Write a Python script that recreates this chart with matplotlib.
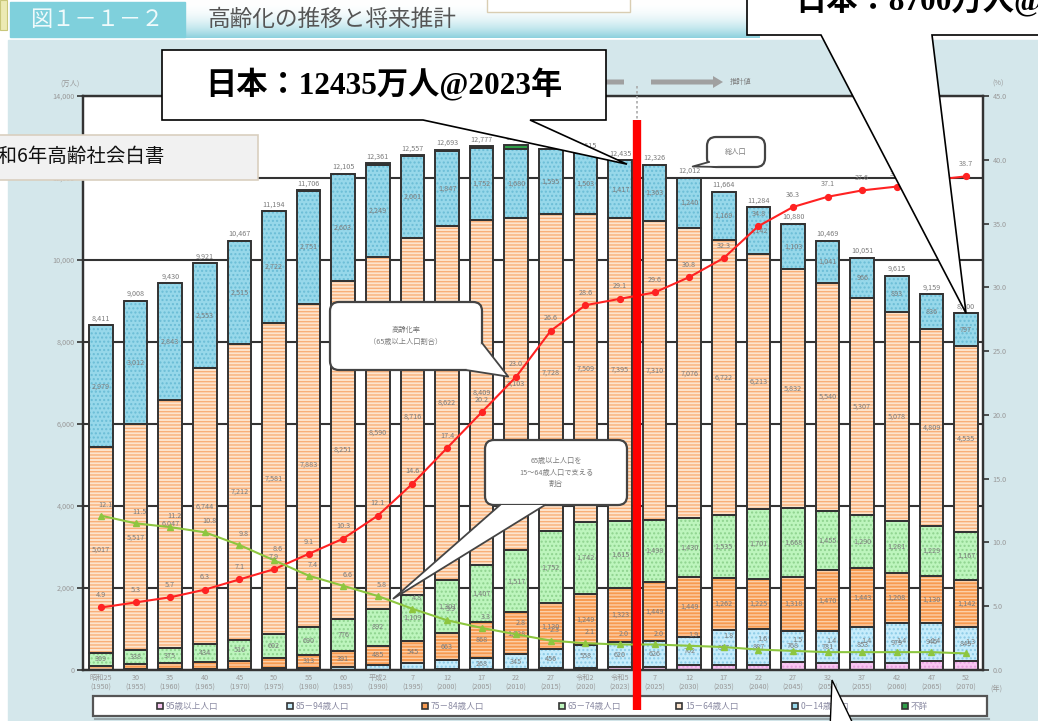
import numpy as np
import matplotlib.pyplot as plt
from matplotlib.patches import Rectangle, FancyBboxPatch, Polygon, FancyArrow
from matplotlib.lines import Line2D
from matplotlib.transforms import blended_transform_factory

plt.rcParams['font.family'] = ['Noto Sans CJK JP', 'DejaVu Sans']
plt.rcParams['hatch.linewidth'] = 1.0

W, H = 1038, 721

# 年次ラベル（和暦・西暦）
year_labels = ['昭和25\n(1950)', '30\n(1955)', '35\n(1960)', '40\n(1965)', '45\n(1970)',
               '50\n(1975)', '55\n(1980)', '60\n(1985)', '平成2\n(1990)', '7\n(1995)',
               '12\n(2000)', '17\n(2005)', '22\n(2010)', '27\n(2015)', '令和2\n(2020)',
               '令和5\n(2023)', '7\n(2025)', '12\n(2030)', '17\n(2035)', '22\n(2040)',
               '27\n(2045)', '32\n(2050)', '37\n(2055)', '42\n(2060)', '47\n(2065)',
               '52\n(2070)']

# 年齢区分別人口（万人）
pop_95over = [1, 1, 1, 1, 1, 2, 3, 4, 5, 9, 14, 24, 34, 46, 53, 65,
              80, 115, 119, 116, 191, 182, 192, 176, 210, 214]
pop_85_94 = [10, 14, 17, 22, 27, 35, 50, 76, 107, 163, 223, 268, 345, 456, 558, 620,
             626, 702, 857, 887, 768, 781, 853, 979, 945, 845]
pop_75_84 = [95, 124, 146, 166, 196, 247, 313, 391, 485, 545, 663, 868, 1028, 1130, 1249, 1323,
             1449, 1449, 1262, 1225, 1318, 1470, 1443, 1208, 1130, 1142]
pop_65_74 = [309, 338, 375, 434, 516, 602, 690, 776, 892, 1109, 1301, 1407, 1517, 1752, 1742, 1615,
             1498, 1430, 1535, 1701, 1668, 1455, 1290, 1281, 1229, 1167]
pop_15_64 = [5017, 5517, 6047, 6744, 7212, 7581, 7883, 8251, 8590, 8716, 8622, 8409, 8103, 7728, 7509, 7395,
             7310, 7076, 6722, 6213, 5832, 5540, 5307, 5078, 4809, 4535]
pop_0_14 = [2979, 3012, 2843, 2553, 2515, 2722, 2751, 2603, 2249, 2001, 1847, 1752, 1680, 1595, 1503, 1417,
            1363, 1240, 1169, 1142, 1103, 1041, 966, 893, 836, 797]
pop_unknown = [0, 2, 1, 1, 0, 5, 16, 4, 33, 14, 23, 49, 99, 2, 1, 0,
               0, 0, 0, 0, 0, 0, 0, 0, 0, 0]

# 高齢化率（%）と 65歳以上1人を支える15～64歳の人数
aging_rate = [4.9, 5.3, 5.7, 6.3, 7.1, 7.9, 9.1, 10.3, 12.1, 14.6, 17.4, 20.2, 23.0, 26.6, 28.6, 29.1,
              29.6, 30.8, 32.3, 34.8, 36.3, 37.1, 37.6, 37.9, 38.4, 38.7]
support_ratio = [12.1, 11.5, 11.2, 10.8, 9.8, 8.6, 7.4, 6.6, 5.8, 4.8, 3.9, 3.3, 2.8, 2.3, 2.1, 2.0,
                 2.0, 1.9, 1.8, 1.6, 1.5, 1.4, 1.4, 1.4, 1.4, 1.3]

# 積み上げ順（下から）: ラベル, 値, 地色, 模様色, 模様
segments = [
    ('95歳以上人口', pop_95over, '#f8c6f1', '#e79fe0', '....'),
    ('85－94歳人口', pop_85_94, '#c6ecfb', '#8ccbe6', '....'),
    ('75－84歳人口', pop_75_84, '#f79a50', '#fccfa8', '-----'),
    ('65－74歳人口', pop_65_74, '#bdf5bd', '#8fd38f', '....'),
    ('15－64歳人口', pop_15_64, '#fde4cd', '#f8af78', '-----'),
    ('0－14歳人口', pop_0_14, '#97d8ea', '#6bbdd6', '....'),
    ('不詳', pop_unknown, '#2f9e48', '#2f9e48', None),
]

GRAY = '#7b7b7b'
EDGE = '#333333'

fig = plt.figure(figsize=(W / 100, H / 100), dpi=100, facecolor='white')

# 背景（パネル・見出し）
bg = fig.add_axes([0, 0, 1, 1], zorder=0)
bg.set_xlim(0, W)
bg.set_ylim(H, 0)
bg.axis('off')
bg.add_patch(Rectangle((8, 40), W, H, color='#d4e7eb', zorder=0))
grad = np.linspace(0, 1, 64) ** 2.2
c0 = np.array([1.0, 1.0, 1.0])
c1 = np.array([0.55, 0.82, 0.87])
img = (c0[None, :] * (1 - grad[:, None]) + c1[None, :] * grad[:, None])[:, None, :]
bg.imshow(np.repeat(img, 2, axis=1), extent=(185, 760, 38, 0), aspect='auto', zorder=1)
bg.add_patch(Rectangle((10, 2), 175, 35, color='#7fd0dc', zorder=2))
bg.add_patch(Rectangle((0, 0), 7, 30, facecolor='#eceab4', edgecolor='#c9c77a', lw=0.8, zorder=2))
bg.add_patch(Rectangle((487, -5), 143, 17, facecolor='white', edgecolor='#d9cdb2', lw=1, zorder=2))
bg.text(30, 20, '図１－１－２', fontsize=16, color='#effafb', va='center', ha='left', zorder=3)
bg.text(208, 19, '高齢化の推移と将来推計', fontsize=16.3, color='#555555', va='center', ha='left', zorder=3)
bg.set_xlim(0, W)
bg.set_ylim(H, 0)

# メインの積み上げ棒グラフ
ax = fig.add_axes([83 / W, 51 / H, 900 / W, 574 / H], zorder=1)
x = np.arange(len(year_labels))
bottom = np.zeros(len(x))
for name, vals, face, hcol, hatch in segments:
    vals = np.array(vals, dtype=float)
    ax.bar(x, vals, bottom=bottom, width=0.68, color=face, edgecolor=hcol,
           hatch=hatch, linewidth=0, zorder=2)
    ax.bar(x, vals, bottom=bottom, width=0.68, fill=False, edgecolor=EDGE,
           linewidth=1.4, zorder=3)
    if name != '不詳':
        for xi, b, v in zip(x, bottom, vals):
            if v >= 250:
                ax.text(xi, b + v / 2, f'{int(v):,}', ha='center', va='center',
                        fontsize=5.2, color=GRAY, zorder=4)
    bottom = bottom + vals

totals = bottom
for xi, t in zip(x, totals):
    ax.text(xi, t + 70, f'{int(t):,}', ha='center', va='bottom', fontsize=5.2, color=GRAY, zorder=4)

ax.set_xlim(-0.52, 25.49)
ax.set_ylim(0, 14000)
ax.set_yticks(range(0, 14001, 2000))
ax.set_yticklabels([f'{v:,}' for v in range(0, 14001, 2000)])
ax.yaxis.grid(True, color=EDGE, linewidth=1.5)
ax.set_axisbelow(True)
ax.set_xticks(x)
ax.set_xticklabels(year_labels, fontsize=5.2, color='#999999', linespacing=1.25)
ax.tick_params(axis='x', length=0, pad=3)
ax.tick_params(axis='y', length=4, width=1.2, color=EDGE, labelsize=5.2, labelcolor='#999999', pad=2)
for s in ax.spines.values():
    s.set_color(EDGE)
    s.set_linewidth(1.6)

# 高齢化率・支える割合の折れ線（右軸）
ax2 = ax.twinx()
ax2.set_ylim(0, 45)
ax2.set_yticks(np.arange(0, 46, 5))
ax2.set_yticklabels([f'{v:.1f}' for v in np.arange(0, 46, 5)])
ax2.tick_params(axis='y', length=4, width=1.2, color=EDGE, labelsize=5.2, labelcolor='#999999', pad=3)
for s in ax2.spines.values():
    s.set_color(EDGE)
    s.set_linewidth(1.6)
ax2.plot(x, aging_rate, color='#ff2222', lw=1.5, marker='o', ms=4.2, zorder=5)
ax2.plot(x, support_ratio, color='#8dc63f', lw=1.5, marker='^', ms=4.5, zorder=5)
for xi, v in zip(x, aging_rate):
    ax2.annotate(f'{v:.1f}', (xi, v), xytext=(0, 6), textcoords='offset points',
                 ha='center', va='bottom', fontsize=5.2, color=GRAY, zorder=6)
for xi, v in zip(x, support_ratio):
    ax2.annotate(f'{v:.1f}', (xi, v), xytext=(3, 5), textcoords='offset points',
                 ha='center', va='bottom', fontsize=5.2, color=GRAY, zorder=6)

# 注記・吹き出し（ピクセル座標）
ov = fig.add_axes([0, 0, 1, 1], zorder=10)
ov.set_xlim(0, W)
ov.set_ylim(H, 0)
ov.axis('off')
ov.patch.set_alpha(0)


def px(axes, xv, yv):
    return ov.transData.inverted().transform(axes.transData.transform((xv, yv)))


ov.text(70, 84, '(万人)', fontsize=5.2, color='#999999', ha='center', va='center')
ov.text(998, 84, '(%)', fontsize=5.2, color='#999999', ha='center', va='center')
ov.text(996, 689, '(年)', fontsize=5.2, color='#999999', ha='center', va='center')

# 実績値 ← | → 推計値
ov.add_patch(FancyArrow(624, 82, -150, 0, width=5, head_width=12, head_length=10,
                        length_includes_head=True, color='#a0a0a0', lw=0, zorder=1))
ov.add_patch(FancyArrow(651, 82, 72, 0, width=5, head_width=12, head_length=10,
                        length_includes_head=True, color='#a0a0a0', lw=0, zorder=1))
ov.text(730, 82, '推計値', fontsize=5.2, color=GRAY, ha='left', va='center', zorder=1)

split = blended_transform_factory(ax.transData, ov.transData)
ov.add_line(Line2D([15.5, 15.5], [86, 125], transform=split, color='#aaaaaa',
                   lw=1.2, ls=(0, (1.5, 1.5)), zorder=1))
ov.add_line(Line2D([15.5, 15.5], [120, 710], transform=split, color='#ff0000',
                   lw=6, solid_capstyle='butt', zorder=4))


def rounded_box(x0, y0, x1, y1, text, tail_base, tip, fs=5.2):
    ov.add_patch(FancyBboxPatch((x0, y0), x1 - x0, y1 - y0,
                                boxstyle='round,pad=0,rounding_size=9',
                                facecolor='white', edgecolor='#444444', lw=1.6, zorder=2))
    (bx0, by0), (bx1, by1) = tail_base
    ov.add_patch(Polygon([(bx0, by0), tip, (bx1, by1)], closed=True,
                         facecolor='white', edgecolor='none', zorder=2.5))
    ov.plot([bx0, tip[0], bx1], [by0, tip[1], by1], color='#444444', lw=1.3, zorder=2.6)
    ov.text((x0 + x1) / 2, (y0 + y1) / 2, text, fontsize=fs, color=GRAY,
            ha='center', va='center', linespacing=1.6, zorder=3)


rounded_box(707, 137, 765, 167, '総人口', [(709, 162), (721, 167)],
            px(ax, 17.1, totals[17]) + np.array([0, -11]))
rounded_box(330, 302, 482, 370, '高齢化率\n（65歳以上人口割合）',
            [(482, 343), (466, 370)], px(ax2, 12, aging_rate[12]) + np.array([-8, 0]))
rounded_box(485, 440, 627, 505, '65歳以上人口を\n15～64歳人口で支える\n割合',
            [(500, 505), (545, 505)], px(ax2, 8.45, 5.6))

# 凡例
ov.add_patch(Rectangle((93, 696), 894, 20, facecolor='white', edgecolor='#555555', lw=1.6, zorder=2))
ov.plot([95, 989], [718.5, 718.5], color='#9aa9ad', lw=1.5, zorder=1.9)
legend_x = [160, 290, 425, 562, 679, 795, 905]
for lx, (name, vals, face, hcol, hatch) in zip(legend_x, segments):
    ov.add_patch(Rectangle((lx - 3, 703), 6, 6, facecolor=face, edgecolor=EDGE, lw=1.2, zorder=3))
    ov.text(lx + 6, 706, name, fontsize=6.2, color='#8a8aa2', ha='left', va='center', zorder=3)

# 吹き出し：総人口
big_font = dict(family=['Liberation Serif', 'Noto Sans CJK JP'], fontweight='bold',
                fontsize=22.5, color='black')
tip1 = px(ax, 15.2, totals[15]) + np.array([0, 4])
ov.add_patch(Polygon([(162, 50), (606, 50), (606, 120), (530, 120), tuple(tip1),
                      (423, 120), (162, 120)], closed=True,
                     facecolor='white', edgecolor='black', lw=1.2, zorder=6))
ov.text(205, 85, '日本：12435万人@2023年', ha='left', va='center', zorder=7, **big_font)

tip2 = px(ax, 25, totals[25])
ov.add_patch(Polygon([(747, -40), (1100, -40), (1100, 35), (932, 35), tuple(tip2),
                      (821, 35), (747, 35)], closed=True,
                     facecolor='white', edgecolor='black', lw=1.2, zorder=6))
ov.text(795, 1, '日本：8700万人@2070年', ha='left', va='center', zorder=7, **big_font)

# 下部の吹き出しの尻尾
ov.add_patch(Polygon([(832, 680), (830, 730), (856, 730)], closed=True,
                     facecolor='white', edgecolor='black', lw=1.0, zorder=6))

# 出典ラベル
ov.add_patch(Rectangle((-5, 135), 263, 45, facecolor='#f1f1f1', edgecolor='#d9cfbf', lw=1.2, zorder=6))
ov.text(165, 157, '令和6年高齢社会白書', fontsize=14, color='#111111', ha='right', va='center', zorder=7)

fig.savefig('out.png', dpi=100)
